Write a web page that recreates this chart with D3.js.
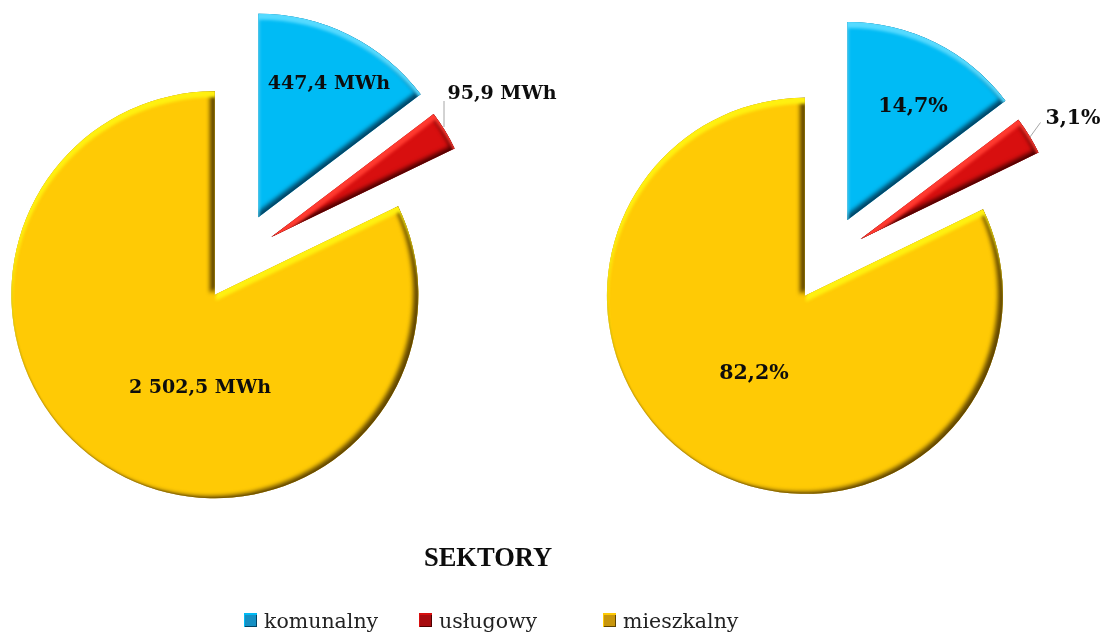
<!DOCTYPE html>
<html><head><meta charset="utf-8">
<script src="https://cdn.jsdelivr.net/npm/d3@7/dist/d3.min.js"></script>
<style>html,body{margin:0;padding:0;background:#fff}svg{display:block}</style>
</head><body><div id="c"></div>
<script>
const categories = ["komunalny", "usługowy", "mieszkalny"];
const energyValues = [447.4, 95.9, 2502.5];
const energyLabels = ["447,4 MWh", "95,9 MWh", "2 502,5 MWh"];
const shareValues = [14.7, 3.1, 82.2];
const shareLabels = ["14,7%", "3,1%", "82,2%"];
const legendTitle = "SEKTORY";

const W = 1105, H = 633;
const colors = ["#00BBF5", "#D80F0F", "#FFCA05"];
const lightColors = ["#55DAFF", "#FF3A30", "#FFF010"];
const darkColors = ["#004060", "#4A0000", "#5A4000"];
const legendColors = ["#1590C4", "#A80C10", "#C8960C"];
const SERIF = "'DejaVu Serif','Liberation Serif',serif";

const pies = [
  {values: energyValues, labels: energyLabels, cx: 238.5, cy: 257, r: 203.5, fontSize: 19,
   explode: [44.5, 38.5, 44.5],
   labelPos: [[329, 82], [502, 92], [200, 386]],
   leader: [[444, 101], [444, 127]]},
  {values: shareValues, labels: shareLabels, cx: 828, cy: 259, r: 198, fontSize: 20.5,
   explode: [43.5, 38, 43.5],
   labelPos: [[913, 105], [1073, 117], [754, 372]],
   leader: [[1040.5, 122.5], [1030, 137]]}
];

const svg = d3.select("#c").append("svg").attr("width", W).attr("height", H);
const defs = svg.append("defs");

// Bevel: light strip on up-facing edges, dark strip on right/lower edges, thin dark rim.
function bevel(id, light, dark, o) {
  const f = defs.append("filter").attr("id", id)
    .attr("filterUnits", "userSpaceOnUse").attr("x", -W).attr("y", -H).attr("width", 2 * W).attr("height", 2 * H)
    .attr("color-interpolation-filters", "sRGB");
  function strip(dx, dy, blur, color, opacity, name) {
    f.append("feOffset").attr("in", "SourceAlpha").attr("dx", dx).attr("dy", dy).attr("result", name + "o");
    f.append("feFlood").attr("flood-color", color).attr("flood-opacity", opacity).attr("result", name + "f");
    f.append("feComposite").attr("in", name + "f").attr("in2", name + "o").attr("operator", "out").attr("result", name + "n");
    f.append("feGaussianBlur").attr("in", name + "n").attr("stdDeviation", blur).attr("result", name + "b");
    f.append("feComposite").attr("in", name + "b").attr("in2", "SourceAlpha").attr("operator", "in").attr("result", name);
  }
  strip(0, 0, o.rim, dark, 0.75, "rim");
  strip(o.sx, o.sy, o.sb, dark, 0.95, "shade");
  strip(o.lx, o.ly, o.lb, light, 1, "light");
  const m = f.append("feMerge").attr("result", "all");
  ["SourceGraphic", "rim", "shade", "light"].forEach(n => m.append("feMergeNode").attr("in", n));
  f.append("feGaussianBlur").attr("in", "all").attr("stdDeviation", 0.6);
}
const bigBevel = {rim: 1.2, sx: -5, sy: -2.5, sb: 2.2, lx: 1, ly: 6, lb: 1.4};
colors.forEach((c, i) => bevel("bevel" + i, lightColors[i], darkColors[i], bigBevel));
const smallBevel = {rim: 0.5, sx: -1.5, sy: -1.5, sb: 0.6, lx: 1, ly: 1.5, lb: 0.5};
colors.forEach((c, i) => bevel("bevelS" + i, colors[i], darkColors[i], smallBevel));
defs.append("filter").attr("id", "soft").append("feGaussianBlur").attr("stdDeviation", 0.3);

const pie = d3.pie().sort(null).startAngle(0).endAngle(2 * Math.PI);

pies.forEach(p => {
  const arc = d3.arc().innerRadius(0).outerRadius(p.r);
  const g = svg.append("g");
  g.selectAll("path").data(pie(p.values)).join("path")
    .attr("d", arc)
    .attr("fill", (d, i) => colors[i])
    .attr("filter", (d, i) => `url(#bevel${i})`)
    .attr("transform", (d, i) => {
      const a = (d.startAngle + d.endAngle) / 2;
      return `translate(${p.cx + p.explode[i] * Math.sin(a)},${p.cy - p.explode[i] * Math.cos(a)})`;
    });
  svg.append("path").attr("d", d3.line()(p.leader))
    .attr("fill", "none").attr("stroke", "#a6a6a6").attr("stroke-width", 1);
  svg.append("g").attr("filter", "url(#soft)").selectAll("text").data(p.labels).join("text")
    .attr("x", (d, i) => p.labelPos[i][0])
    .attr("y", (d, i) => p.labelPos[i][1] + 7)
    .attr("text-anchor", "middle")
    .attr("font-family", SERIF).attr("font-weight", 700).attr("font-size", p.fontSize)
    .attr("fill", "#0c0c0c")
    .text(d => d);
});

svg.append("text").attr("x", 488).attr("y", 566).attr("text-anchor", "middle")
  .attr("font-family", "'Liberation Serif',serif").attr("font-weight", 700).attr("font-size", 26.5)
  .attr("fill", "#0c0c0c").attr("filter", "url(#soft)").text(legendTitle);

const legendX = d3.scaleOrdinal().domain(categories).range([244, 419, 603]);
const lg = svg.append("g").selectAll("g").data(categories).join("g")
  .attr("transform", d => `translate(${legendX(d)},613)`);
lg.append("rect").attr("width", 13).attr("height", 14)
  .attr("fill", (d, i) => legendColors[i]).attr("filter", (d, i) => `url(#bevelS${i})`);
lg.append("text").attr("x", 20).attr("y", 15)
  .attr("font-family", SERIF).attr("font-size", 20.5).attr("fill", "#222")
  .attr("filter", "url(#soft)").text(d => d);
</script></body></html>
